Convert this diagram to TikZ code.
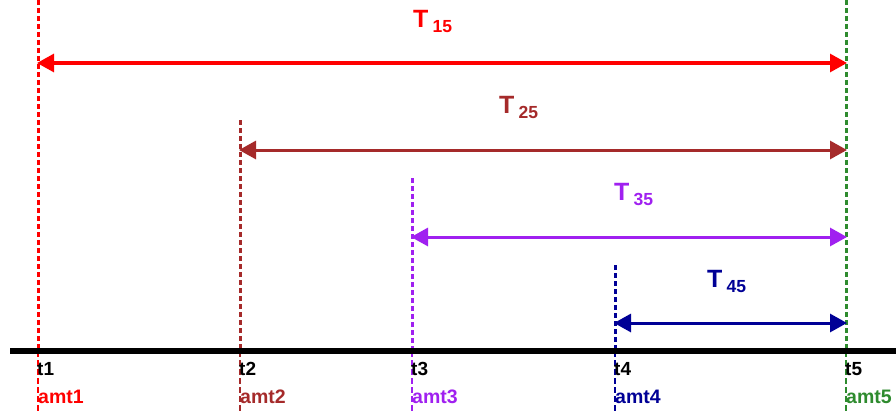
\documentclass[tikz,border=0pt]{standalone}
\usepackage{fontspec}
\setmainfont{Liberation Sans}[BoldFont={Liberation Sans Bold}]
\newfontfamily\labelfont{Liberation Sans Bold}
\usetikzlibrary{arrows.meta}
\definecolor{cRed}{RGB}{255,0,0}
\definecolor{cBrown}{RGB}{165,42,42}
\definecolor{cPurple}{RGB}{160,32,240}
\definecolor{cNavy}{RGB}{0,0,150}
\definecolor{cGreen}{RGB}{46,139,46}
\tikzset{
  guide/.style={line width=3pt, dash pattern=on 5pt off 3pt},
  guidelow/.style={line width=1.1pt, dash pattern=on 6pt off 3pt},
  span/.style={line width=3pt, {Triangle[length=17pt,width=18pt]}-{Triangle[length=17pt,width=18pt]}, shorten <=-1pt, shorten >=-1pt},
  spanlabel/.style={anchor=base west, inner sep=0pt, font=\labelfont\fontsize{25}{25}\selectfont},
  tick/.style={anchor=base west, inner sep=0pt, font=\labelfont\fontsize{19}{19}\selectfont},
  amt/.style={anchor=base west, inner sep=0pt, font=\labelfont\fontsize{19.5}{19.5}\selectfont}
}
\newcommand{\Tsub}[1]{T\,\raisebox{-5pt}{\fontsize{17.5}{17.5}\selectfont #1}}
\begin{document}
\begin{tikzpicture}[x=1pt,y=1pt]
\useasboundingbox (0,0) rectangle (896,-412);
\fill[white] (0,0) rectangle (896,-412);

% vertical dashed markers: thick above the axis, thin below
\coordinate (top1) at (38,0);   \coordinate (ax1) at (38,-351);  \coordinate (bot1) at (38,-412);
\coordinate (top2) at (240,-120); \coordinate (ax2) at (240,-351); \coordinate (bot2) at (240,-412);
\coordinate (top3) at (412,-178); \coordinate (ax3) at (412,-351); \coordinate (bot3) at (412,-412);
\coordinate (top4) at (615,-265); \coordinate (ax4) at (615,-351); \coordinate (bot4) at (615,-412);
\coordinate (top5) at (846,0);  \coordinate (ax5) at (846,-351); \coordinate (bot5) at (846,-412);

\draw[guide, cRed]    (top1) -- (ax1);
\draw[guide, cBrown]  (top2) -- (ax2);
\draw[guide, cPurple] (top3) -- (ax3);
\draw[guide, cNavy]   (top4) -- (ax4);
\draw[guide, cGreen]  (top5) -- (ax5);
\draw[guidelow, cRed]    (ax1) -- (bot1);
\draw[guidelow, cBrown]  (ax2) -- (bot2);
\draw[guidelow, cPurple] (ax3) -- (bot3);
\draw[guidelow, cNavy]   (ax4) -- (bot4);
\draw[guidelow, cGreen]  (ax5) -- (bot5);

% time axis
\coordinate (axL) at (10,-351);
\coordinate (axR) at (896,-351);
\draw[line width=6pt] (axL) -- (axR);

% interval arrows
\coordinate (s15) at (38,-63);  \coordinate (e15) at (846,-63);
\coordinate (s25) at (240,-150); \coordinate (e25) at (846,-150);
\coordinate (s35) at (412,-237); \coordinate (e35) at (846,-237);
\coordinate (s45) at (615,-323); \coordinate (e45) at (846,-323);
\draw[span, cRed]    (s15) -- (e15);
\draw[span, cBrown]  (s25) -- (e25);
\draw[span, cPurple] (s35) -- (e35);
\draw[span, cNavy]   (s45) -- (e45);

% interval labels
\node[spanlabel, text=cRed]    (L15) at (413,-28)  {\Tsub{15}};
\node[spanlabel, text=cBrown]  (L25) at (499,-113) {\Tsub{25}};
\node[spanlabel, text=cPurple] (L35) at (614,-200) {\Tsub{35}};
\node[spanlabel, text=cNavy]   (L45) at (707,-287) {\Tsub{45}};

% time tick labels
\node[tick] (t1) at (37,-375)  {t1};
\node[tick] (t2) at (239,-375) {t2};
\node[tick] (t3) at (411,-375) {t3};
\node[tick] (t4) at (614,-375) {t4};
\node[tick] (t5) at (845,-375) {t5};

% amount labels
\node[amt, text=cRed]    (a1) at (38,-403)  {amt1};
\node[amt, text=cBrown]  (a2) at (240,-403) {amt2};
\node[amt, text=cPurple] (a3) at (412,-403) {amt3};
\node[amt, text=cNavy]   (a4) at (615,-403) {amt4};
\node[amt, text=cGreen]  (a5) at (846,-403) {amt5};
\end{tikzpicture}
\end{document}
